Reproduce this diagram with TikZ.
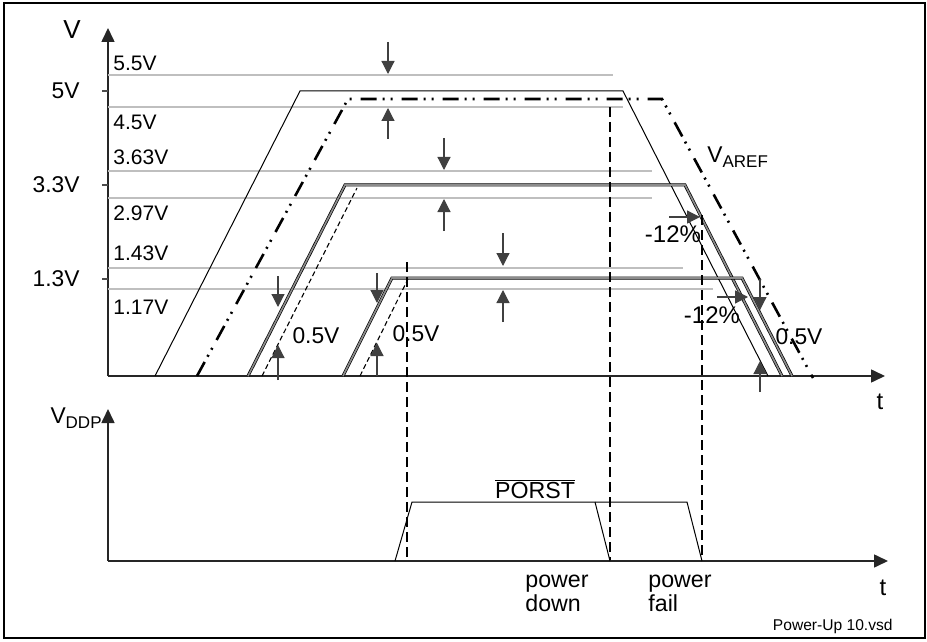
\documentclass[tikz,border=0pt]{standalone}
\usepackage{fontspec}
\setmainfont{Liberation Sans}
\usepackage{tikz}
\usetikzlibrary{arrows.meta}

\newcommand{\lowtxt}[1]{\raisebox{-0.45ex}{\fontsize{8.5}{9}\selectfont #1}}

\tikzset{
  tol/.style={draw=black!25, line width=1pt},
  axis/.style={black!85, line width=0.8pt, -{Triangle[width=6.5pt,length=7pt]}},
  dimarrow/.style={black!75, line width=0.6pt, -{Triangle[width=6.5pt,length=6.5pt]}},
  supply/.style={double=black!45, double distance=0.8pt, line width=0.35pt},
  rise/.style={dash pattern=on 2.5pt off 1.5pt, line width=0.55pt},
  cut/.style={dash pattern=on 5pt off 2.5pt, line width=0.75pt},
  vref/.style={line width=1.3pt, dash pattern=on 8pt off 3pt on 1pt off 3pt on 1pt off 4.5pt},
  lbl/.style={inner sep=0pt, font=\fontsize{11.4}{13}\selectfont},
  tollbl/.style={inner sep=0pt, anchor=west, font=\fontsize{10.5}{12}\selectfont},
}

\begin{document}
\begin{tikzpicture}[x=0.5pt,y=-0.5pt]
\useasboundingbox (0,0) rectangle (927,642);
\draw[line width=0.7pt] (4,3) rectangle (925,638);

% supply voltages
\draw[axis] (108,376) -- (108,28);
\draw[axis] (108,376) -- (885,376);
\foreach \y in {91,185,279}
  \draw[black!70, line width=0.6pt] (102,\y) -- (108,\y);

\foreach \y/\xe in {75/613,107/623,171/652,198/652,268/683,289/713}
  \draw[tol] (108,\y) -- (\xe,\y);

\foreach \y/\txt in {63/5.5V,122/4.5V,157/3.63V,213/2.97V,253/1.43V,307/1.17V}
  \node[tollbl] (tol\y) at (113,\y) {\txt};

\node[lbl, font=\fontsize{13}{15}\selectfont] (vaxis) at (72,30) {V};
\node[lbl, anchor=east] (v5) at (80,91) {5V};
\node[lbl, anchor=east] (v33) at (80,185) {3.3V};
\node[lbl, anchor=east] (v13) at (80,279) {1.3V};
\node[lbl, font=\fontsize{12}{14}\selectfont] (taxis) at (880,402) {t};

\draw[line width=0.5pt] (155,376) -- (300,91) -- (623,91) -- (768,376);
\draw[vref] (197,376) -- (348,99) -- (662,99) -- (813,378);
\draw[supply] (248,376) -- (345,185) -- (685,185) -- (782,376);
\draw[rise] (262,376) -- (357,188);
\draw[supply] (343,376) -- (392,278) -- (742,278) -- (792,376);
\draw[rise] (360,376) -- (408,279);

\node[lbl, anchor=west] (varef) at (707,157) {V\lowtxt{AREF}};

% tolerance marks
\draw[dimarrow] (388,42) -- (388,74);
\draw[dimarrow] (388,139) -- (388,108);
\draw[dimarrow] (444,138) -- (444,170);
\draw[dimarrow] (444,231) -- (444,199);
\draw[dimarrow] (503,233) -- (503,266);
\draw[dimarrow] (503,322) -- (503,290);

\draw[dimarrow] (278,276) -- (278,307);
\draw[dimarrow] (278,380) -- (278,345);
\draw[dimarrow] (377,273) -- (377,303);
\draw[dimarrow] (377,376) -- (377,343);
\draw[dimarrow] (760,279) -- (760,310);
\draw[dimarrow] (760,392) -- (760,361);
\draw[dimarrow] (669,217) -- (700,217);
\draw[dimarrow] (717,297) -- (748,297);

\node[lbl] (half1) at (316,336) {0.5V};
\node[lbl] (half2) at (416,334) {0.5V};
\node[lbl] (half3) at (799,337) {0.5V};
\node[lbl, font=\fontsize{12}{14}\selectfont] (drop1) at (673,234) {-12\%};
\node[lbl, font=\fontsize{12}{14}\selectfont] (drop2) at (712,315) {-12\%};

% events
\draw[cut] (407,262) -- (407,561);
\draw[cut] (610,107) -- (610,561);
\draw[cut] (702,215) -- (702,561);

% reset output
\draw[axis] (108,561) -- (108,409);
\draw[axis] (108,561) -- (888,561);
\node[lbl, anchor=east] (vddp) at (102,418) {V\lowtxt{DDP}};
\node[lbl, font=\fontsize{12}{14}\selectfont] (tlow) at (883,588) {t};

\draw[line width=0.5pt] (395,561) -- (412,502) -- (687,502) -- (702,561);
\draw[line width=0.5pt] (595,502) -- (610,561);
\node[lbl, font=\fontsize{11.6}{14}\selectfont] (porst) at (535,489) {$\overline{\mbox{PORST}}$};

\node[lbl, anchor=base west, font=\fontsize{11.6}{14}\selectfont] (pdown1) at (525,587) {power};
\node[lbl, anchor=base west, font=\fontsize{11.6}{14}\selectfont] (pdown2) at (525,611) {down};
\node[lbl, anchor=base west, font=\fontsize{11.6}{14}\selectfont] (pfail1) at (648,587) {power};
\node[lbl, anchor=base west, font=\fontsize{11.6}{14}\selectfont] (pfail2) at (648,611) {fail};

\node[lbl, anchor=base east, font=\fontsize{7.8}{9}\selectfont] (fname) at (893,630) {Power-Up 10.vsd};
\end{tikzpicture}
\end{document}
